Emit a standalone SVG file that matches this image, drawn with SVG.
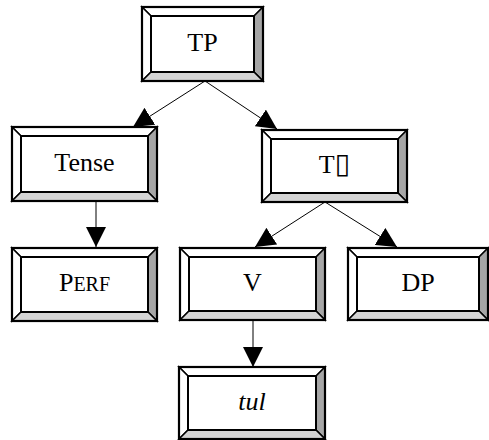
<svg xmlns="http://www.w3.org/2000/svg" width="489" height="440" viewBox="0 0 489 440">
<style>
.bg{fill:#fff;stroke:none}
.lt{fill:#fff;stroke:#000;stroke-width:1.5;stroke-linejoin:miter}
.rt{fill:#a6a6a6;stroke:#000;stroke-width:1.5}
.bt{fill:#d4d4d4;stroke:#000;stroke-width:1.5}
.ol{fill:none;stroke:#000;stroke-width:2.2}
.il{fill:none;stroke:#000;stroke-width:2}
.lbl{font-family:"Liberation Serif","Times New Roman",serif;font-size:26px;text-anchor:middle;fill:#000}
.tofu{font-family:"DejaVu Sans",sans-serif;font-size:28px}
.edge{stroke:#000;stroke-width:1;fill:none;marker-end:url(#ah)}
</style>
<defs>
<marker id="ah" viewBox="0 0 20 20" refX="20" refY="10" markerWidth="20" markerHeight="20" markerUnits="userSpaceOnUse" orient="auto">
<path d="M0,0 L20,10 L0,20 z" fill="#000"/>
</marker>
</defs>
<rect width="489" height="440" fill="#fff"/>
<g id="connectors">
<line class="edge" x1="205" y1="81" x2="133" y2="127"/>
<line class="edge" x1="205" y1="81" x2="277" y2="129"/>
<line class="edge" x1="96" y1="201" x2="96" y2="247"/>
<line class="edge" x1="325" y1="202" x2="255" y2="247"/>
<line class="edge" x1="325" y1="202" x2="397" y2="247"/>
<line class="edge" x1="253" y1="320" x2="253" y2="367"/>
</g>
<g id="TP">
<polygon class="lt" points="142,7 263,7 254,16 151,16"/>
<polygon class="lt" points="142,7 151,16 151,72 142,81"/>
<polygon class="rt" points="263,7 263,81 254,72 254,16"/>
<polygon class="bt" points="142,81 263,81 254,72 151,72"/>
<rect class="ol" x="142" y="7" width="121" height="74"/>
<rect class="il" x="151" y="16" width="103" height="56"/>
<text class="lbl" x="202.5" y="50.5">TP</text>
</g>
<g id="Tense">
<polygon class="lt" points="12,127 157,127 148,136 21,136"/>
<polygon class="lt" points="12,127 21,136 21,192 12,201"/>
<polygon class="rt" points="157,127 157,201 148,192 148,136"/>
<polygon class="bt" points="12,201 157,201 148,192 21,192"/>
<rect class="ol" x="12" y="127" width="145" height="74"/>
<rect class="il" x="21" y="136" width="127" height="56"/>
<text class="lbl" x="84.5" y="170.5">Tense</text>
</g>
<g id="Tbar">
<polygon class="lt" points="262,130 407,130 398,139 271,139"/>
<polygon class="lt" points="262,130 271,139 271,193 262,202"/>
<polygon class="rt" points="407,130 407,202 398,193 398,139"/>
<polygon class="bt" points="262,202 407,202 398,193 271,193"/>
<rect class="ol" x="262" y="130" width="145" height="72"/>
<rect class="il" x="271" y="139" width="127" height="54"/>
<text class="lbl" x="334.5" y="172.5">T<tspan class="tofu">▯</tspan></text>
</g>
<g id="PERF">
<polygon class="lt" points="12,248 157,248 148,257 21,257"/>
<polygon class="lt" points="12,248 21,257 21,312 12,321"/>
<polygon class="rt" points="157,248 157,321 148,312 148,257"/>
<polygon class="bt" points="12,321 157,321 148,312 21,312"/>
<rect class="ol" x="12" y="248" width="145" height="73"/>
<rect class="il" x="21" y="257" width="127" height="55"/>
<text class="lbl" x="84.5" y="290.5">P<tspan font-size="20">ERF</tspan></text>
</g>
<g id="V">
<polygon class="lt" points="180,248 325,248 316,257 189,257"/>
<polygon class="lt" points="180,248 189,257 189,311 180,320"/>
<polygon class="rt" points="325,248 325,320 316,311 316,257"/>
<polygon class="bt" points="180,320 325,320 316,311 189,311"/>
<rect class="ol" x="180" y="248" width="145" height="72"/>
<rect class="il" x="189" y="257" width="127" height="54"/>
<text class="lbl" x="252.5" y="290.5">V</text>
</g>
<g id="DP">
<polygon class="lt" points="348,248 488,248 479,257 357,257"/>
<polygon class="lt" points="348,248 357,257 357,311 348,320"/>
<polygon class="rt" points="488,248 488,320 479,311 479,257"/>
<polygon class="bt" points="348,320 488,320 479,311 357,311"/>
<rect class="ol" x="348" y="248" width="140" height="72"/>
<rect class="il" x="357" y="257" width="122" height="54"/>
<text class="lbl" x="418" y="290.5">DP</text>
</g>
<g id="tul">
<polygon class="lt" points="179,367 325,367 316,376 188,376"/>
<polygon class="lt" points="179,367 188,376 188,430 179,439"/>
<polygon class="rt" points="325,367 325,439 316,430 316,376"/>
<polygon class="bt" points="179,439 325,439 316,430 188,430"/>
<rect class="ol" x="179" y="367" width="146" height="72"/>
<rect class="il" x="188" y="376" width="128" height="54"/>
<text class="lbl" x="252" y="409.5" font-style="italic">tul</text>
</g>
</svg>
